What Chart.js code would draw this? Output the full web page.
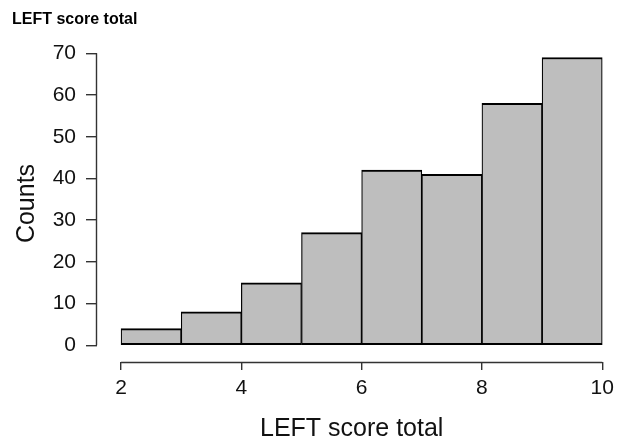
<!DOCTYPE html>
<html>
<head>
<meta charset="utf-8">
<script src="https://cdn.jsdelivr.net/npm/chart.js@4/dist/chart.umd.min.js"></script>
<style>
html,body{margin:0;padding:0;background:#fff;}
canvas{display:block;}
</style>
</head>
<body>
<canvas id="c" width="620" height="445"></canvas>
<script>
const chartTitle = "LEFT score total";
const xTitle = "LEFT score total";
const yTitle = "Counts";
const binStarts = [2, 3, 4, 5, 6, 7, 8, 9];
const binWidth = 1;
const counts = [4, 8, 15, 27, 42, 41, 58, 69];
const xTicks = [2, 4, 6, 8, 10];
const yTicks = [0, 10, 20, 30, 40, 50, 60, 70];

const FONT = "'Liberation Sans', Arial, sans-serif";
const AXIS_COLOR = '#333';

const axisLines = {
  id: 'axisLines',
  afterDraw(chart) {
    const {ctx, chartArea, scales: {x, y}} = chart;
    ctx.save();
    ctx.strokeStyle = AXIS_COLOR;
    ctx.lineWidth = 1.4;
    ctx.beginPath();
    const yb = chartArea.bottom + 0.5;
    ctx.moveTo(x.getPixelForValue(xTicks[0]), yb);
    ctx.lineTo(x.getPixelForValue(xTicks[xTicks.length - 1]), yb);
    const xl = chartArea.left - 0.5;
    ctx.moveTo(xl, y.getPixelForValue(yTicks[0]));
    ctx.lineTo(xl, y.getPixelForValue(yTicks[yTicks.length - 1]));
    ctx.stroke();
    ctx.fillStyle = '#000';
    ctx.font = 'bold 16px ' + FONT;
    ctx.textBaseline = 'alphabetic';
    ctx.textAlign = 'left';
    ctx.fillText(chartTitle, 12, 24);
    ctx.restore();
  }
};

new Chart(document.getElementById('c'), {
  type: 'bar',
  data: {
    datasets: [{
      data: binStarts.map((b, i) => ({x: b + binWidth / 2, y: counts[i]})),
      backgroundColor: '#bebebe',
      borderColor: '#000',
      borderWidth: {top: 2, bottom: 2, left: 1.2, right: 1.2},
      borderSkipped: false,
      barPercentage: 1,
      categoryPercentage: 1
    }]
  },
  options: {
    responsive: false,
    devicePixelRatio: 1,
    animation: false,
    layout: {padding: {top: 45, left: 0, right: 11, bottom: 0}},
    plugins: {legend: {display: false}, tooltip: {enabled: false}, title: {display: false}},
    scales: {
      x: {
        type: 'linear',
        offset: false,
        min: 1.6,
        max: 10.07,
        afterBuildTicks: s => { s.ticks = xTicks.map(v => ({value: v})); },
        afterFit: s => { s.height = 83; },
        grid: {offset: false, drawOnChartArea: false, drawTicks: true, tickLength: 8, color: AXIS_COLOR, lineWidth: 1.4},
        border: {display: false},
        ticks: {font: {family: FONT, size: 21}, color: '#111', padding: 6, maxRotation: 0, autoSkip: false},
        title: {display: true, text: xTitle, font: {family: FONT, size: 25}, color: '#111', padding: {top: 0, bottom: 1}}
      },
      y: {
        min: -4,
        max: 72,
        afterBuildTicks: s => { s.ticks = yTicks.map(v => ({value: v})); },
        afterFit: s => { s.width = 97; },
        grid: {drawOnChartArea: false, drawTicks: true, tickLength: 11, color: AXIS_COLOR, lineWidth: 1.4},
        border: {display: false},
        ticks: {font: {family: FONT, size: 21}, color: '#111', padding: 10, autoSkip: false},
        title: {display: true, text: yTitle, font: {family: FONT, size: 25}, color: '#111', padding: {top: 12, bottom: 0}}
      }
    }
  },
  plugins: [axisLines]
});
</script>
</body>
</html>
